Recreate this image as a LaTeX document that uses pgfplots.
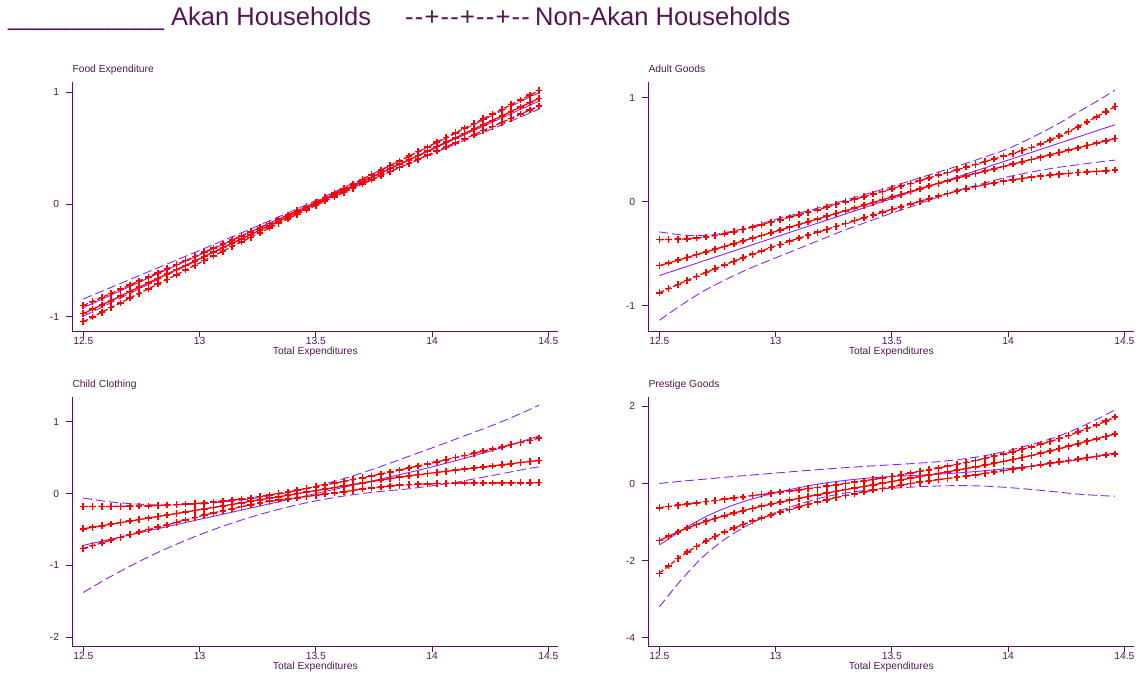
\documentclass[border=0pt]{standalone}
\usepackage{fontspec}
\setmainfont{Liberation Sans}
\usepackage{pgfplots}
\usepackage{pgfplotstable}
\pgfplotsset{compat=1.18}
\definecolor{axcol}{RGB}{85,20,85}
\definecolor{bl}{RGB}{135,35,255}
\definecolor{rd}{RGB}{255,0,0}

% ---------- Food Expenditure ----------
\pgfplotstableread{
x lo mid hi
12.50 -1.045 -0.973 -0.901
12.54 -1.003 -0.934 -0.865
12.58 -0.961 -0.895 -0.829
12.62 -0.919 -0.856 -0.793
12.66 -0.878 -0.817 -0.756
12.70 -0.835 -0.777 -0.719
12.74 -0.793 -0.738 -0.683
12.78 -0.752 -0.699 -0.646
12.82 -0.710 -0.660 -0.610
12.86 -0.668 -0.621 -0.574
12.90 -0.627 -0.582 -0.537
12.94 -0.585 -0.543 -0.501
12.98 -0.543 -0.504 -0.465
13.02 -0.501 -0.464 -0.427
13.06 -0.459 -0.425 -0.391
13.10 -0.418 -0.386 -0.354
13.14 -0.376 -0.347 -0.318
13.18 -0.335 -0.308 -0.281
13.22 -0.294 -0.269 -0.244
13.26 -0.253 -0.230 -0.208
13.30 -0.212 -0.191 -0.171
13.34 -0.171 -0.152 -0.133
13.38 -0.129 -0.112 -0.095
13.42 -0.089 -0.073 -0.057
13.46 -0.049 -0.034 -0.019
13.50 -0.010 0.005 0.020
13.54 0.029 0.044 0.059
13.58 0.067 0.083 0.099
13.62 0.105 0.122 0.139
13.66 0.142 0.161 0.180
13.70 0.181 0.201 0.222
13.74 0.218 0.240 0.263
13.78 0.254 0.279 0.304
13.82 0.291 0.318 0.345
13.86 0.328 0.357 0.386
13.90 0.364 0.396 0.428
13.94 0.401 0.435 0.469
13.98 0.437 0.474 0.511
14.02 0.475 0.514 0.553
14.06 0.511 0.553 0.595
14.10 0.547 0.592 0.637
14.14 0.584 0.631 0.678
14.18 0.620 0.670 0.720
14.22 0.656 0.709 0.762
14.26 0.693 0.748 0.803
14.30 0.729 0.787 0.845
14.34 0.766 0.827 0.888
14.38 0.803 0.866 0.929
14.42 0.839 0.905 0.971
14.46 0.875 0.944 1.013
}\foodred
\pgfplotstableread{
x lo mid hi
12.50 -0.997 -0.920 -0.843
12.70 -0.794 -0.732 -0.670
12.90 -0.591 -0.544 -0.497
13.10 -0.391 -0.357 -0.324
13.30 -0.190 -0.169 -0.148
13.50 0.004 0.019 0.034
13.70 0.186 0.207 0.228
13.90 0.361 0.394 0.428
14.10 0.535 0.582 0.629
14.30 0.708 0.770 0.832
14.46 0.847 0.920 0.994
}\foodblue

% ---------- Adult Goods ----------
\pgfplotstableread{
x lo mid hi
12.50 -0.875 -0.615 -0.365
12.54 -0.835 -0.589 -0.363
12.58 -0.795 -0.562 -0.361
12.62 -0.756 -0.536 -0.356
12.66 -0.718 -0.509 -0.348
12.70 -0.680 -0.483 -0.340
12.74 -0.644 -0.457 -0.324
12.78 -0.608 -0.430 -0.308
12.82 -0.573 -0.404 -0.289
12.86 -0.539 -0.377 -0.267
12.90 -0.505 -0.351 -0.245
12.94 -0.473 -0.325 -0.221
12.98 -0.441 -0.298 -0.197
13.02 -0.410 -0.272 -0.173
13.06 -0.380 -0.245 -0.149
13.10 -0.350 -0.219 -0.125
13.14 -0.322 -0.193 -0.101
13.18 -0.294 -0.166 -0.077
13.22 -0.266 -0.140 -0.052
13.26 -0.238 -0.113 -0.026
13.30 -0.210 -0.087 0.000
13.34 -0.182 -0.061 0.024
13.38 -0.154 -0.034 0.048
13.42 -0.127 -0.008 0.073
13.46 -0.101 0.019 0.099
13.50 -0.075 0.045 0.125
13.54 -0.049 0.071 0.151
13.58 -0.023 0.098 0.177
13.62 0.003 0.124 0.203
13.66 0.029 0.151 0.229
13.70 0.055 0.177 0.255
13.74 0.079 0.201 0.281
13.78 0.103 0.226 0.307
13.82 0.125 0.249 0.333
13.86 0.145 0.272 0.359
13.90 0.165 0.294 0.385
13.94 0.181 0.316 0.411
13.98 0.197 0.339 0.437
14.02 0.211 0.361 0.464
14.06 0.223 0.384 0.492
14.10 0.235 0.406 0.520
14.14 0.245 0.428 0.556
14.18 0.255 0.451 0.592
14.22 0.264 0.473 0.632
14.26 0.272 0.496 0.676
14.30 0.280 0.518 0.720
14.34 0.286 0.540 0.768
14.38 0.292 0.563 0.816
14.42 0.298 0.585 0.865
14.46 0.304 0.608 0.915
}\adultred
\pgfplotstableread{
x lo mid hi
12.50 -1.140 -0.710 -0.290
12.60 -0.985 -0.636 -0.320
12.70 -0.847 -0.562 -0.325
12.80 -0.733 -0.488 -0.290
12.90 -0.630 -0.414 -0.235
13.00 -0.540 -0.340 -0.170
13.10 -0.450 -0.266 -0.110
13.20 -0.360 -0.192 -0.050
13.30 -0.270 -0.118 0.015
13.40 -0.190 -0.044 0.080
13.50 -0.110 0.030 0.145
13.60 -0.035 0.104 0.215
13.70 0.045 0.178 0.285
13.80 0.120 0.252 0.355
13.90 0.180 0.326 0.430
14.00 0.240 0.400 0.510
14.10 0.285 0.474 0.615
14.20 0.325 0.548 0.730
14.30 0.355 0.622 0.860
14.40 0.385 0.696 0.990
14.46 0.400 0.740 1.074
}\adultblue

% ---------- Child Clothing ----------
\pgfplotstableread{
x lo mid hi
12.50 -0.765 -0.490 -0.180
12.54 -0.725 -0.469 -0.180
12.58 -0.685 -0.448 -0.180
12.62 -0.646 -0.426 -0.179
12.66 -0.609 -0.405 -0.178
12.70 -0.572 -0.384 -0.177
12.74 -0.537 -0.363 -0.174
12.78 -0.502 -0.342 -0.171
12.82 -0.468 -0.320 -0.167
12.86 -0.435 -0.299 -0.161
12.90 -0.401 -0.278 -0.155
12.94 -0.367 -0.257 -0.147
12.98 -0.332 -0.236 -0.139
13.02 -0.300 -0.214 -0.129
13.06 -0.269 -0.193 -0.117
13.10 -0.239 -0.172 -0.105
13.14 -0.211 -0.151 -0.091
13.18 -0.182 -0.130 -0.077
13.22 -0.156 -0.108 -0.060
13.26 -0.131 -0.087 -0.040
13.30 -0.107 -0.066 -0.020
13.34 -0.091 -0.045 0.002
13.38 -0.074 -0.024 0.024
13.42 -0.058 -0.002 0.047
13.46 -0.041 0.019 0.071
13.50 -0.025 0.040 0.095
13.54 -0.009 0.061 0.119
13.58 0.008 0.082 0.143
13.62 0.025 0.104 0.168
13.66 0.044 0.125 0.194
13.70 0.062 0.146 0.220
13.74 0.077 0.167 0.246
13.78 0.092 0.188 0.272
13.82 0.105 0.208 0.299
13.86 0.115 0.227 0.327
13.90 0.125 0.245 0.355
13.94 0.130 0.262 0.383
13.98 0.135 0.278 0.411
14.02 0.139 0.294 0.440
14.06 0.142 0.309 0.470
14.10 0.144 0.324 0.500
14.14 0.145 0.339 0.530
14.18 0.146 0.355 0.560
14.22 0.147 0.370 0.590
14.26 0.148 0.385 0.620
14.30 0.149 0.400 0.650
14.34 0.149 0.415 0.680
14.38 0.150 0.431 0.710
14.42 0.150 0.446 0.740
14.46 0.151 0.461 0.770
}\childred
\pgfplotstableread{
x lo mid hi
12.50 -1.376 -0.720 -0.064
12.60 -1.186 -0.648 -0.110
12.70 -1.012 -0.576 -0.140
12.80 -0.851 -0.504 -0.157
12.90 -0.706 -0.432 -0.158
13.00 -0.574 -0.360 -0.146
13.10 -0.455 -0.288 -0.121
13.20 -0.348 -0.216 -0.084
13.30 -0.254 -0.144 -0.034
13.40 -0.172 -0.072 0.028
13.50 -0.102 0.000 0.102
13.60 -0.045 0.072 0.189
13.70 0.000 0.144 0.288
13.80 0.036 0.218 0.400
13.90 0.066 0.292 0.518
14.00 0.109 0.372 0.635
14.10 0.155 0.455 0.755
14.20 0.215 0.545 0.875
14.30 0.276 0.638 1.000
14.40 0.340 0.740 1.140
14.46 0.370 0.800 1.230
}\childblue

% ---------- Prestige Goods ----------
\pgfplotstableread{
x lo mid hi
12.50 -2.330 -1.480 -0.630
12.54 -2.138 -1.368 -0.598
12.58 -1.946 -1.256 -0.566
12.62 -1.778 -1.156 -0.534
12.66 -1.634 -1.068 -0.502
12.70 -1.490 -0.980 -0.470
12.74 -1.376 -0.908 -0.440
12.78 -1.262 -0.836 -0.410
12.82 -1.159 -0.769 -0.379
12.86 -1.067 -0.707 -0.347
12.90 -0.975 -0.645 -0.315
12.94 -0.897 -0.591 -0.285
12.98 -0.819 -0.537 -0.255
13.02 -0.745 -0.485 -0.225
13.06 -0.675 -0.435 -0.195
13.10 -0.605 -0.385 -0.165
13.14 -0.543 -0.339 -0.135
13.18 -0.481 -0.293 -0.105
13.22 -0.423 -0.248 -0.073
13.26 -0.369 -0.204 -0.039
13.30 -0.315 -0.160 -0.005
13.34 -0.267 -0.118 0.031
13.38 -0.219 -0.076 0.067
13.42 -0.173 -0.034 0.105
13.46 -0.129 0.008 0.145
13.50 -0.085 0.050 0.185
13.54 -0.045 0.092 0.227
13.58 -0.005 0.134 0.269
13.62 0.032 0.176 0.312
13.66 0.066 0.218 0.356
13.70 0.100 0.260 0.400
13.74 0.130 0.302 0.448
13.78 0.160 0.344 0.496
13.82 0.192 0.387 0.546
13.86 0.226 0.431 0.598
13.90 0.260 0.475 0.650
13.94 0.296 0.523 0.706
13.98 0.332 0.571 0.762
14.02 0.369 0.621 0.822
14.06 0.407 0.673 0.886
14.10 0.445 0.725 0.950
14.14 0.485 0.783 1.018
14.18 0.525 0.841 1.086
14.22 0.563 0.902 1.162
14.26 0.599 0.966 1.246
14.30 0.635 1.030 1.330
14.34 0.669 1.094 1.422
14.38 0.703 1.158 1.514
14.42 0.736 1.221 1.614
14.46 0.768 1.283 1.722
}\prestred
\pgfplotstableread{
x lo mid hi
12.50 -3.200 -1.600 0.000
12.60 -2.460 -1.200 0.060
12.70 -1.835 -0.860 0.115
12.80 -1.370 -0.600 0.170
12.90 -1.020 -0.400 0.220
13.00 -0.750 -0.240 0.270
13.10 -0.540 -0.110 0.320
13.20 -0.365 0.000 0.365
13.30 -0.250 0.080 0.410
13.40 -0.170 0.140 0.450
13.50 -0.125 0.180 0.485
13.60 -0.090 0.210 0.520
13.70 -0.065 0.240 0.565
13.80 -0.055 0.280 0.630
13.90 -0.070 0.330 0.720
14.00 -0.105 0.385 0.850
14.10 -0.155 0.450 1.010
14.20 -0.215 0.530 1.190
14.30 -0.275 0.610 1.430
14.40 -0.315 0.720 1.720
14.46 -0.330 0.800 1.910
}\prestblue

\pgfplotsset{
  panel/.style={
    scale only axis, width=486pt, height=249.3pt,
    axis x line*=bottom, axis y line*=left,
    axis line style={draw=axcol, line width=0.8pt, -},
    tick style={draw=axcol, line width=0.8pt},
    tick align=outside, major tick length=6pt,
    xmin=12.4527, xmax=14.543,
    xtick={12.5,13,13.5,14,14.5},
    xticklabels={12.5,13,13.5,14,14.5},
    ticklabel style={font=\fontsize{10.3}{12}\selectfont, text=axcol},
    xticklabel style={inner sep=0.5pt},
    yticklabel style={inner sep=0pt, xshift=-7pt},
    xlabel={Total Expenditures},
    xlabel style={font=\fontsize{10.3}{12}\selectfont, text=axcol, at={(axis description cs:0.5,0)}, anchor=north, inner sep=0pt, yshift=-15.5pt},
    every axis title shift=0pt,
    title style={font=\fontsize{10.3}{12}\selectfont, text=axcol, at={(axis description cs:0,1)}, anchor=base west, inner sep=0pt, yshift=9.4pt},
  },
  bmid/.style={color=bl, line width=0.9pt, no marks, smooth},
  bband/.style={color=bl, line width=0.9pt, no marks, smooth, dash pattern=on 9pt off 4pt},
  rmid/.style={color=rd, line width=1.3pt, no marks},
  rband/.style={color=rd, line width=1.3pt, no marks, dash pattern=on 5pt off 2.5pt},
  rmark/.style={color=rd, only marks, mark=+, mark size=3.3pt, mark options={solid, draw=rd, line width=1.6pt}},
}

\begin{document}
\begin{tikzpicture}[color=rd]
\path[use as bounding box] (0,0) rectangle (1139pt,678pt);
\node[anchor=base west, inner sep=0pt, font=\fontsize{25.5}{30}\selectfont, text=axcol] at (8pt,652pt) {\_\_\_\_\_\_\_\_\_\_\_ Akan Households};
\node[anchor=base west, inner sep=0pt, font=\fontsize{25.5}{30}\selectfont, text=axcol] at (405pt,652pt) {-\kern1.2pt-\kern1.2pt+\kern1.2pt-\kern1.2pt-\kern1.2pt+\kern1.2pt-\kern1.2pt-\kern1.2pt+\kern1.2pt-\kern1.2pt-};
\node[anchor=base west, inner sep=0pt, font=\fontsize{25.5}{30}\selectfont, text=axcol] at (535pt,652pt) {Non-Akan Households};

% Panel 1
\begin{axis}[panel, at={(72.3pt,347pt)}, anchor=south west, title={Food Expenditure},
  ymin=-1.128, ymax=1.092, ytick={-1,0,1}, yticklabels={-1,0,1}]
\addplot[bband] table[x=x,y=lo]{\foodblue};
\addplot[bband] table[x=x,y=hi]{\foodblue};
\addplot[bmid] table[x=x,y=mid]{\foodblue};
\addplot[rband] table[x=x,y=lo]{\foodred};
\addplot[rband] table[x=x,y=hi]{\foodred};
\addplot[rmid] table[x=x,y=mid]{\foodred};
\addplot[rmark] table[x=x,y=lo]{\foodred};
\addplot[rmark] table[x=x,y=hi]{\foodred};
\addplot[rmark] table[x=x,y=mid]{\foodred};
\end{axis}

% Panel 2
\begin{axis}[panel, at={(648.3pt,347pt)}, anchor=south west, title={Adult Goods},
  ymin=-1.243, ymax=1.154, ytick={-1,0,1}, yticklabels={-1,0,1}]
\addplot[bband] table[x=x,y=lo]{\adultblue};
\addplot[bband] table[x=x,y=hi]{\adultblue};
\addplot[bmid] table[x=x,y=mid]{\adultblue};
\addplot[rband] table[x=x,y=lo]{\adultred};
\addplot[rband] table[x=x,y=hi]{\adultred};
\addplot[rmid] table[x=x,y=mid]{\adultred};
\addplot[rmark] table[x=x,y=lo]{\adultred};
\addplot[rmark] table[x=x,y=hi]{\adultred};
\addplot[rmark] table[x=x,y=mid]{\adultred};
\end{axis}

% Panel 3
\begin{axis}[panel, at={(72.3pt,32pt)}, anchor=south west, title={Child Clothing},
  ymin=-2.121, ymax=1.347, ytick={-2,-1,0,1}, yticklabels={-2,-1,0,1}]
\addplot[bband] table[x=x,y=lo]{\childblue};
\addplot[bband] table[x=x,y=hi]{\childblue};
\addplot[bmid] table[x=x,y=mid]{\childblue};
\addplot[rband] table[x=x,y=lo]{\childred};
\addplot[rband] table[x=x,y=hi]{\childred};
\addplot[rmid] table[x=x,y=mid]{\childred};
\addplot[rmark] table[x=x,y=lo]{\childred};
\addplot[rmark] table[x=x,y=hi]{\childred};
\addplot[rmark] table[x=x,y=mid]{\childred};
\end{axis}

% Panel 4
\begin{axis}[panel, at={(648.3pt,32pt)}, anchor=south west, title={Prestige Goods},
  ymin=-4.215, ymax=2.25, ytick={-4,-2,0,2}, yticklabels={-4,-2,0,2}]
\addplot[bband] table[x=x,y=lo]{\prestblue};
\addplot[bband] table[x=x,y=hi]{\prestblue};
\addplot[bmid] table[x=x,y=mid]{\prestblue};
\addplot[rband] table[x=x,y=lo]{\prestred};
\addplot[rband] table[x=x,y=hi]{\prestred};
\addplot[rmid] table[x=x,y=mid]{\prestred};
\addplot[rmark] table[x=x,y=lo]{\prestred};
\addplot[rmark] table[x=x,y=hi]{\prestred};
\addplot[rmark] table[x=x,y=mid]{\prestred};
\end{axis}
\end{tikzpicture}
\end{document}
